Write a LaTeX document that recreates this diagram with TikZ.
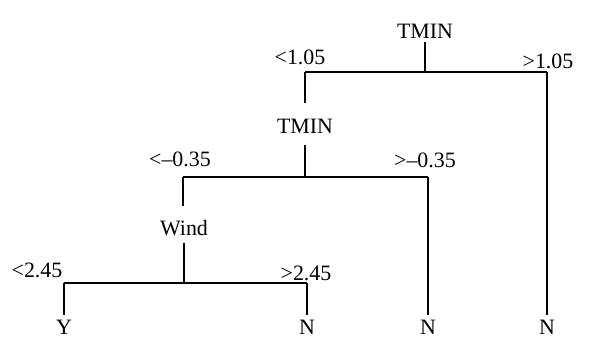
\documentclass[tikz,border=0pt]{standalone}
\usepackage{fontspec}
\setmainfont{Liberation Serif}
\begin{document}
\begin{tikzpicture}[x=1bp,y=-1bp,
  lbl/.style={font=\fontsize{22}{24}\selectfont, inner sep=0pt},
  edge/.style={line width=1.3bp, black}]
\useasboundingbox (0,0) rectangle (600,357);
% nodes
\node[lbl] (t1) at (425,31) {TMIN};
\node[lbl] (t2) at (305,126) {TMIN};
\node[lbl] (w) at (184,228) {Wind};
\node[lbl] (y1) at (64,327) {Y};
\node[lbl] (n1) at (307,327) {N};
\node[lbl] (n2) at (428,327) {N};
\node[lbl] (n3) at (547,327) {N};
% branch labels
\node[lbl] (l1) at (300,57) {<1.05};
\node[lbl] (r1) at (548,61) {>1.05};
\node[lbl] (l2) at (180,159) {<\textendash0.35};
\node[lbl] (r2) at (425,160) {>\textendash0.35};
\node[lbl] (l3) at (37,270) {<2.45};
\node[lbl] (r3) at (306,273) {>2.45};
% junction coordinates
\coordinate (j1) at (425,72);
\coordinate (a1) at (305,72);
\coordinate (b1) at (547,72);
\coordinate (j2) at (305,177);
\coordinate (a2) at (183,177);
\coordinate (b2) at (428,177);
\coordinate (j3) at (184,283);
\coordinate (a3) at (64,283);
\coordinate (b3) at (307,283);
% connectors
\draw[edge] (t1.south |- 0,42) -- (j1);
\draw[edge] (a1) -- (b1);
\draw[edge] (a1) -- (t2.north |- 0,103);
\draw[edge] (b1) -- (n3.north |- 0,315);
\draw[edge] (t2.south |- 0,145) -- (j2);
\draw[edge] (a2) -- (b2);
\draw[edge] (a2) -- (183,206);
\draw[edge] (b2) -- (n2.north |- 0,315);
\draw[edge] (w.south |- 0,243) -- (j3);
\draw[edge] (a3) -- (b3);
\draw[edge] (a3) -- (y1.north |- 0,315);
\draw[edge] (b3) -- (n1.north |- 0,315);
\end{tikzpicture}
\end{document}
